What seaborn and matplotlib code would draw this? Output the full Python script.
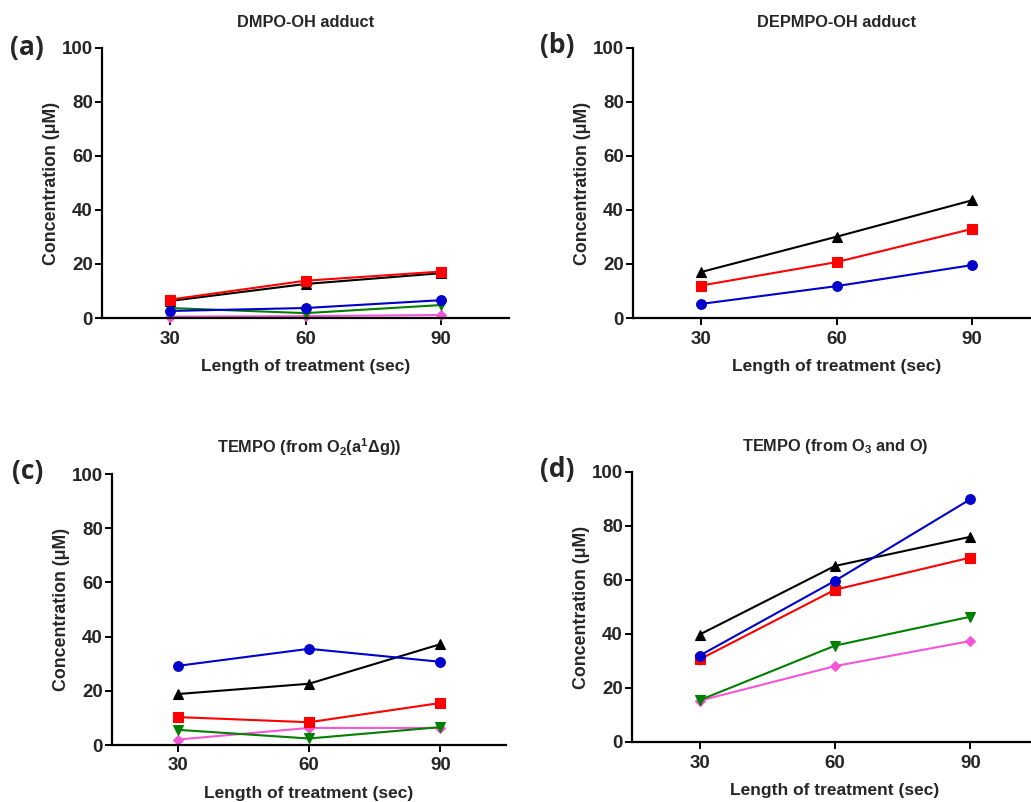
import matplotlib
matplotlib.use("Agg")
import matplotlib.pyplot as plt
import seaborn as sns
import pandas as pd

sns.set_theme(style="ticks")
plt.rcParams["font.family"] = ["Liberation Sans", "DejaVu Sans"]
plt.rcParams["mathtext.fontset"] = "custom"
plt.rcParams["mathtext.rm"] = "Liberation Sans:bold"
plt.rcParams["mathtext.it"] = "Liberation Sans:bold"
plt.rcParams["mathtext.bf"] = "Liberation Sans:bold"

# Treatment times (s)
times = [30, 60, 90]

# Series order (drawing order) and styling
series = ["S5", "S4", "S3", "S2", "S1"]
colors = {"S1": "#0000CC", "S2": "#FF0000", "S3": "#000000", "S4": "#008000", "S5": "#F556D8"}
markers = {"S1": "o", "S2": "s", "S3": "^", "S4": "v", "S5": "D"}
msizes = {"S1": 7, "S2": 7, "S3": 7, "S4": 7, "S5": 5}

# (a) DMPO-OH adduct
dmpo = {
    "S1": [2.6, 3.7, 6.6],
    "S2": [6.8, 13.8, 17.2],
    "S3": [6.3, 12.6, 16.6],
    "S4": [3.7, 1.8, 4.8],
    "S5": [0.5, 0.7, 1.1],
}
# (b) DEPMPO-OH adduct
depmpo = {
    "S1": [5.2, 11.8, 19.6],
    "S2": [12.0, 20.7, 33.0],
    "S3": [17.0, 30.1, 43.6],
}
# (c) TEMPO from singlet oxygen
tempo_o2 = {
    "S1": [29.2, 35.5, 30.7],
    "S2": [10.3, 8.4, 15.5],
    "S3": [18.8, 22.6, 37.2],
    "S4": [5.6, 2.4, 6.6],
    "S5": [2.0, 6.3, 6.3],
}
# (d) TEMPO from O3 and O
tempo_o3 = {
    "S1": [32.0, 59.7, 89.9],
    "S2": [30.6, 56.4, 68.3],
    "S3": [39.8, 65.2, 76.0],
    "S4": [15.5, 35.7, 46.4],
    "S5": [15.3, 28.1, 37.4],
}

titles = [
    "DMPO-OH adduct",
    "DEPMPO-OH adduct",
    r"TEMPO (from O$_2$(a$^1$$\Delta$g))",
    r"TEMPO (from O$_3$ and O)",
]
letters = ["(a)", "(b)", "(c)", "(d)"]
datasets = [dmpo, depmpo, tempo_o2, tempo_o3]

W, H = 1031, 802
fig = plt.figure(figsize=(W / 100, H / 100), dpi=100)

# axes boxes in pixels: left, right, top, bottom
boxes = [
    (102, 509, 48, 318),
    (633, 1040, 48, 318),
    (112, 506, 474, 745),
    (632, 1038, 472, 742),
]
letter_pos = [(10, 47), (540, 45), (12, 472), (540, 470)]

for data, title, letter, box, lp in zip(datasets, titles, letters, boxes, letter_pos):
    l, r, t, b = box
    ax = fig.add_axes([l / W, 1 - b / H, (r - l) / W, (b - t) / H])
    rows = []
    for s in series:
        if s in data:
            for x, y in zip(times, data[s]):
                rows.append({"time": x, "conc": y, "series": s})
    df = pd.DataFrame(rows)
    for s in series:
        if s not in data:
            continue
        sub = df[df["series"] == s]
        sns.lineplot(data=sub, x="time", y="conc", ax=ax, color=colors[s],
                     marker=markers[s], markersize=msizes[s], linewidth=1.5,
                     markeredgecolor=colors[s], markeredgewidth=0.8, clip_on=False)
    ax.set_xlim(15, 105)
    ax.set_ylim(0, 100)
    ax.set_xticks(times)
    ax.set_yticks([0, 20, 40, 60, 80, 100])
    for sp in ["top", "right"]:
        ax.spines[sp].set_visible(False)
    for sp in ["left", "bottom"]:
        ax.spines[sp].set_linewidth(1.6)
        ax.spines[sp].set_color("black")
    ax.tick_params(axis="both", direction="out", length=5, width=1.4, color="black",
                   labelsize=13.5, pad=1.5)
    for lab in ax.get_xticklabels() + ax.get_yticklabels():
        lab.set_fontweight("bold")
    ax.tick_params(axis="x", pad=4)
    ax.set_xlabel("Length of treatment (sec)", fontsize=12.5, fontweight="bold", labelpad=8)
    ax.set_ylabel("Concentration (μM)", fontsize=12.8, fontweight="bold", labelpad=1)
    ax.set_title(title, fontsize=11.8, fontweight="bold", pad=15)
    fig.text(lp[0] / W, 1 - lp[1] / H, letter, fontsize=19, fontweight="bold",
             family=["Open Sans", "DejaVu Sans"], ha="left", va="center")

fig.savefig("out.png", dpi=100)
